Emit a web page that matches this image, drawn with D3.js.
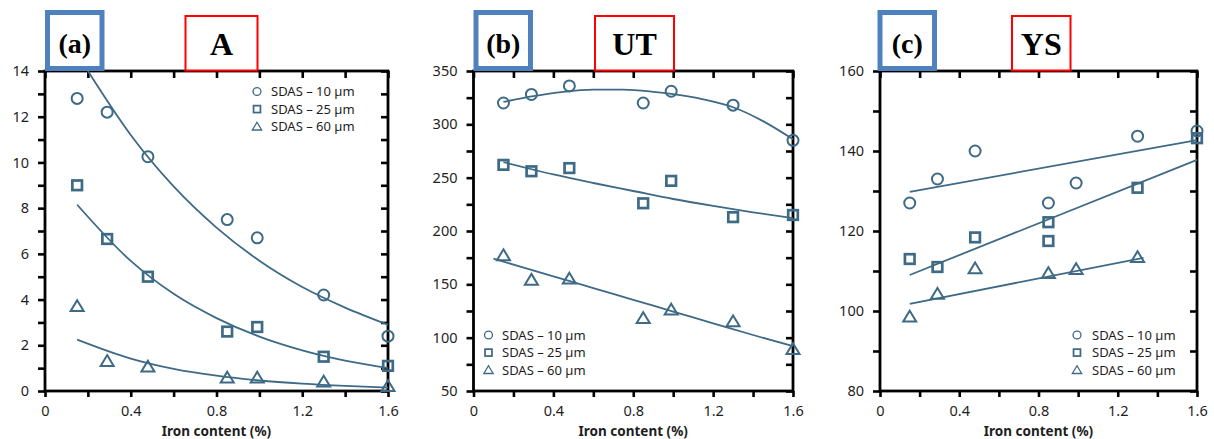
<!DOCTYPE html>
<html>
<head>
<meta charset="utf-8">
<script src="https://cdn.jsdelivr.net/npm/d3@7"></script>
<style>
  html, body { margin: 0; padding: 0; background: #fff; }
  svg { display: block; }
  .tick text { font-family: "Noto Sans", "DejaVu Sans", sans-serif; fill: #1e1e1e; }
</style>
</head>
<body>
<svg id="chart" width="1214" height="439"></svg>
<script>
// Iron content (%) of the alloys tested
const ironX = [0.15, 0.29, 0.48, 0.85, 0.99, 1.30, 1.60];

// Elongation A (%)
const aCircle   = [12.8, 12.2, 10.25, 7.5, 6.7, 4.2, 2.4];
const aSquare   = [9.0, 6.65, 5.0, 2.6, 2.8, 1.5, 1.1];
const aTriangle = [3.7, 1.3, 1.05, 0.57, 0.57, 0.4, 0.2];
const aFitCircleX   = [0.2, 0.4, 0.6, 0.8, 1.0, 1.2, 1.4, 1.6];
const aFitCircleY   = [14.0, 11.2, 8.95, 7.15, 5.7, 4.55, 3.65, 2.9];
const aFitSquareX   = [0.15, 0.4, 0.6, 0.8, 1.0, 1.2, 1.4, 1.6];
const aFitSquareY   = [8.15, 5.69, 4.25, 3.19, 2.38, 1.78, 1.33, 1.0];
const aFitTriangleX = [0.15, 0.4, 0.6, 0.8, 1.0, 1.2, 1.4, 1.6];
const aFitTriangleY = [2.25, 1.42, 0.97, 0.67, 0.46, 0.32, 0.22, 0.15];

// Ultimate tensile strength UT (MPa)
const utCircle   = [320, 328, 336, 320, 331, 318, 285];
const utSquare   = [262, 256, 259, 226, 247, 213, 215];
const utTriangle = [177, 154, 155, 118, 126, 115, 89];
const utFitCircleX   = [0.15, 0.3, 0.45, 0.6, 0.75, 0.9, 1.0, 1.15, 1.3, 1.45, 1.6];
const utFitCircleY   = [321, 326.5, 330.5, 332.5, 332.5, 330.5, 328.3, 323.5, 316, 303, 286];
const utFitSquareX   = [0.15, 0.4, 0.6, 0.8, 1.0, 1.2, 1.4, 1.6];
const utFitSquareY   = [264.5, 253, 245, 237.5, 230, 223.5, 217.5, 212];
const utFitTriangleX = [0.1, 0.4, 0.6, 0.8, 1.0, 1.2, 1.4, 1.6];
const utFitTriangleY = [174, 157.5, 146.5, 135.5, 124.5, 113.5, 102.5, 92];

// Yield strength YS (MPa)
const ysCircleX   = [0.15, 0.29, 0.48, 0.85, 0.99, 1.30, 1.60];
const ysCircle    = [127, 133, 140, 127, 132, 143.7, 145];
const ysSquareX   = [0.15, 0.29, 0.48, 0.85, 0.85, 1.30, 1.60];
const ysSquare    = [113, 111, 118.4, 122.2, 117.5, 130.8, 143.2];
const ysTriangleX = [0.15, 0.29, 0.48, 0.85, 0.99, 1.30];
const ysTriangle  = [98.5, 104.2, 110.6, 109.4, 110.4, 113.4];
const ysFitCircleX   = [0.15, 1.6];
const ysFitCircleY   = [129.8, 142.7];
const ysFitSquareX   = [0.15, 1.6];
const ysFitSquareY   = [109, 137.8];
const ysFitTriangleX = [0.15, 1.33];
const ysFitTriangleY = [101.8, 113.3];

// Axis ticks
const xTicks = [0, 0.2, 0.4, 0.6, 0.8, 1.0, 1.2, 1.4, 1.6];
const xLabels = ["0", "0.4", "0.8", "1.2", "1.6"];
const aYTicks  = [0, 1, 2, 3, 4, 5, 6, 7, 8, 9, 10, 11, 12, 13, 14];
const aYLabels = ["0", "2", "4", "6", "8", "10", "12", "14"];
const utYTicks  = [50, 75, 100, 125, 150, 175, 200, 225, 250, 275, 300, 325, 350];
const utYLabels = ["50", "100", "150", "200", "250", "300", "350"];
const ysYTicks  = [80, 90, 100, 110, 120, 130, 140, 150, 160];
const ysYLabels = ["80", "100", "120", "140", "160"];

const legendNames = ["SDAS \u2013 10 \u00b5m", "SDAS \u2013 25 \u00b5m", "SDAS \u2013 60 \u00b5m"];

const markColor = "#3e6a86";
const svg = d3.select("#chart");

const panels = [
  {
    left: 45, right: 388, yDomain: [0, 14], yTicks: aYTicks, yLabels: aYLabels,
    series: [
      { shape: "circle",   x: ironX, y: aCircle,   fx: aFitCircleX,   fy: aFitCircleY },
      { shape: "square",   x: ironX, y: aSquare,   fx: aFitSquareX,   fy: aFitSquareY },
      { shape: "triangle", x: ironX, y: aTriangle, fx: aFitTriangleX, fy: aFitTriangleY }
    ],
    legend: { x: 257, y: 91.5, tx: 271 },
    tag: { x0: 45, x1: 104.5, text: "(a)" },
    title: { x0: 184.5, x1: 258.5, text: "A" }
  },
  {
    left: 473.5, right: 793, yDomain: [50, 350], yTicks: utYTicks, yLabels: utYLabels,
    series: [
      { shape: "circle",   x: ironX, y: utCircle,   fx: utFitCircleX,   fy: utFitCircleY },
      { shape: "square",   x: ironX, y: utSquare,   fx: utFitSquareX,   fy: utFitSquareY },
      { shape: "triangle", x: ironX, y: utTriangle, fx: utFitTriangleX, fy: utFitTriangleY }
    ],
    legend: { x: 488.5, y: 335, tx: 502 },
    tag: { x0: 473.5, x1: 533, text: "(b)" },
    title: { x0: 594, x1: 675, text: "UT" }
  },
  {
    left: 880, right: 1197, yDomain: [80, 160], yTicks: ysYTicks, yLabels: ysYLabels,
    series: [
      { shape: "circle",   x: ysCircleX,   y: ysCircle,   fx: ysFitCircleX,   fy: ysFitCircleY },
      { shape: "square",   x: ysSquareX,   y: ysSquare,   fx: ysFitSquareX,   fy: ysFitSquareY },
      { shape: "triangle", x: ysTriangleX, y: ysTriangle, fx: ysFitTriangleX, fy: ysFitTriangleY }
    ],
    legend: { x: 1077, y: 335, tx: 1092 },
    tag: { x0: 877.5, x1: 937, text: "(c)" },
    title: { x0: 1011, x1: 1071.5, text: "YS" }
  }
];

const plotTop = 71, plotBottom = 391;

function drawMarker(g, shape, cx, cy, s, sw) {
  if (shape === "circle") {
    g.append("circle").attr("cx", cx).attr("cy", cy).attr("r", 5.5 * s)
      .attr("fill", "none").attr("stroke", markColor).attr("stroke-width", sw);
  } else if (shape === "square") {
    const h = 4.8 * s;
    g.append("rect").attr("x", cx - h).attr("y", cy - h).attr("width", 2 * h).attr("height", 2 * h)
      .attr("fill", "none").attr("stroke", markColor).attr("stroke-width", sw * 1.35);
  } else {
    const w = 6.5 * s, hTop = 6.2 * s, hBot = 4.6 * s;
    g.append("path")
      .attr("d", `M${cx},${cy - hTop}L${cx + w},${cy + hBot}L${cx - w},${cy + hBot}Z`)
      .attr("fill", "none").attr("stroke", markColor).attr("stroke-width", sw)
      .attr("stroke-linejoin", "miter");
  }
}

panels.forEach(p => {
  const x = d3.scaleLinear().domain([0, 1.6]).range([p.left, p.right]);
  const y = d3.scaleLinear().domain(p.yDomain).range([plotBottom, plotTop]);
  const g = svg.append("g");

  const fmtX = d => { const s = String(+d.toFixed(1)); return xLabels.includes(s) ? s : ""; };
  const fmtY = d => { const s = String(d); return p.yLabels.includes(s) ? s : ""; };

  // left axis: outward ticks with labels
  const gl = g.append("g").attr("transform", `translate(${p.left},0)`)
    .call(d3.axisLeft(y).tickValues(p.yTicks).tickSize(7).tickPadding(9).tickFormat(fmtY));
  // right axis: inward ticks
  const gr = g.append("g").attr("transform", `translate(${p.right},0)`)
    .call(d3.axisRight(y).tickValues(p.yTicks).tickSize(-7).tickFormat(""));
  // bottom axis: outward ticks with labels (only labelled ticks keep a text node)
  const gb = g.append("g").attr("transform", `translate(0,${plotBottom})`)
    .call(d3.axisBottom(x).tickValues(xTicks).tickSize(6).tickPadding(9).tickFormat(fmtX));
  // top axis: inward ticks
  const gt = g.append("g").attr("transform", `translate(0,${plotTop})`)
    .call(d3.axisTop(x).tickValues(xTicks).tickSize(-7).tickFormat(""));

  [gl, gr, gb, gt].forEach(a => {
    a.select(".domain").remove();
    a.selectAll(".tick line").attr("stroke", "#000").attr("stroke-width", 2.6);
    a.selectAll(".tick text").attr("font-size", 14.5);
    a.selectAll(".tick text").filter(function () { return this.textContent === ""; }).remove();
  });

  // plot frame
  g.append("rect").attr("x", p.left).attr("y", plotTop)
    .attr("width", p.right - p.left).attr("height", plotBottom - plotTop)
    .attr("fill", "none").attr("stroke", "#000").attr("stroke-width", 2.8);

  // fitted trend curves
  const line = d3.line().x(d => x(d[0])).y(d => y(d[1])).curve(d3.curveMonotoneX);
  p.series.forEach(s => {
    g.append("path").datum(d3.zip(s.fx, s.fy)).attr("d", line)
      .attr("fill", "none").attr("stroke", markColor).attr("stroke-width", 1.8);
  });

  // measured points
  p.series.forEach(s => {
    s.x.forEach((xv, i) => drawMarker(g, s.shape, x(xv), y(s.y[i]), 1, 2));
  });

  // legend
  const lg = g.append("g");
  p.series.forEach((s, i) => {
    const cy = p.legend.y + i * 17.6;
    drawMarker(lg, s.shape, p.legend.x, cy, 0.72, 1.3);
    lg.append("text").attr("x", p.legend.tx).attr("y", cy).attr("dy", "0.36em")
      .attr("font-family", "'Noto Sans', 'DejaVu Sans', sans-serif")
      .attr("font-size", 13).attr("fill", "#1e1e1e").text(legendNames[i]);
  });

  // x-axis title
  g.append("text").attr("x", (p.left + p.right) / 2).attr("y", 435.5)
    .attr("text-anchor", "middle")
    .attr("font-family", "'Noto Sans', 'DejaVu Sans', sans-serif")
    .attr("font-weight", "bold").attr("font-size", 13.5).attr("fill", "#1e1e1e")
    .text("Iron content (%)");

  // panel tag box (blue)
  g.append("rect").attr("x", p.tag.x0 + 2.5).attr("y", 12.5)
    .attr("width", p.tag.x1 - p.tag.x0 - 5).attr("height", 56)
    .attr("fill", "#fff").attr("stroke", "#4f81bd").attr("stroke-width", 5);
  g.append("text").attr("x", (p.tag.x0 + p.tag.x1) / 2).attr("y", 53)
    .attr("text-anchor", "middle")
    .attr("font-family", "'Liberation Serif', 'DejaVu Serif', serif")
    .attr("font-weight", "bold").attr("font-size", 28).attr("fill", "#000")
    .text(p.tag.text);

  // property title box (red)
  g.append("rect").attr("x", p.title.x0 + 1).attr("y", 16)
    .attr("width", p.title.x1 - p.title.x0 - 2).attr("height", 54.5)
    .attr("fill", "#fff").attr("stroke", "#ff0000").attr("stroke-width", 2);
  g.append("text").attr("x", (p.title.x0 + p.title.x1) / 2).attr("y", 55)
    .attr("text-anchor", "middle")
    .attr("font-family", "'Liberation Serif', 'DejaVu Serif', serif")
    .attr("font-weight", "bold").attr("font-size", 32).attr("fill", "#000")
    .text(p.title.text);
});
</script>
</body>
</html>
